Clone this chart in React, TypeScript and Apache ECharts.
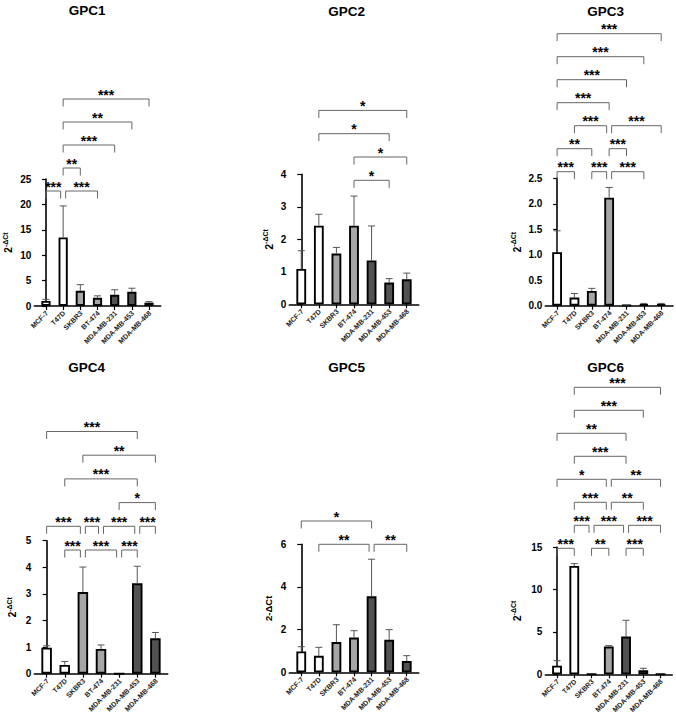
import React, { useEffect, useRef } from "react";
import * as echarts from "echarts";

const CELL_LINES = ["MCF-7", "T47D", "SKBR3", "BT-474", "MDA-MB-231", "MDA-MB-453", "MDA-MB-468"];
const CELL_TONE = ["white", "white", "light", "light", "dark", "dark", "dark"];

const PANEL_NAMES = ["GPC1", "GPC2", "GPC3", "GPC4", "GPC5", "GPC6"];
const Y_MAX = [25, 4, 2.5, 5, 6, 15];
const Y_STEP = [5, 1, 0.5, 1, 2, 5];

const GPC1_MEAN = [1.0, 13.5, 3.0, 1.6, 2.2, 2.8, 0.66];
const GPC1_SD = [0.3, 6.2, 1.2, 0.4, 1.0, 0.7, 0.2];
const GPC2_MEAN = [1.09, 2.42, 1.56, 2.42, 1.35, 0.67, 0.77];
const GPC2_SD = [0.56, 0.35, 0.19, 0.91, 1.06, 0.12, 0.19];
const GPC3_MEAN = [1.05, 0.16, 0.29, 2.12, 0.01, 0.03, 0.03];
const GPC3_SD = [0.42, 0.08, 0.05, 0.2, 0.005, 0.015, 0.015];
const GPC4_MEAN = [0.98, 0.33, 3.07, 0.93, 0, 3.4, 1.33];
const GPC4_SD = [0.07, 0.13, 0.94, 0.15, 0, 0.64, 0.22];
const GPC5_MEAN = [0.98, 0.77, 1.42, 1.63, 3.56, 1.52, 0.53];
const GPC5_SD = [0.22, 0.4, 0.81, 0.32, 1.74, 0.48, 0.25];
const GPC6_MEAN = [1.02, 12.8, 0, 3.27, 4.45, 0.47, 0];
const GPC6_SD = [0.59, 0.27, 0, 0.12, 1.93, 0.24, 0];

type Sig = [number, number, number, string]; // [from, to, row, stars]
const GPC1_SIG: Sig[] = [[0, 1, 0, "***"], [1, 3, 0, "***"], [1, 2, 1, "**"], [1, 4, 2, "***"], [1, 5, 3, "**"], [1, 6, 4, "***"]];
const GPC2_SIG: Sig[] = [[3, 5, 0, "*"], [3, 6, 1, "*"], [1, 5, 2, "*"], [1, 6, 3, "*"]];
const GPC3_SIG: Sig[] = [
  [0, 1, 0, "***"], [2, 3, 0, "***"], [3, 5, 0, "***"],
  [0, 2, 1, "**"], [3, 4, 1, "***"],
  [1, 3, 2, "***"], [3, 6, 2, "***"],
  [0, 3, 3, "***"], [0, 4, 4, "***"], [0, 5, 5, "***"], [0, 6, 6, "***"],
];
const GPC4_SIG: Sig[] = [
  [1, 2, 0, "***"], [2, 4, 0, "***"], [4, 5, 0, "***"],
  [0, 2, 1, "***"], [2, 3, 1, "***"], [3, 5, 1, "***"], [5, 6, 1, "***"],
  [4, 6, 2, "*"], [1, 5, 3, "***"], [2, 6, 4, "**"], [0, 5, 5, "***"],
];
const GPC5_SIG: Sig[] = [[1, 4, 0, "**"], [4, 6, 0, "**"], [0, 4, 1, "*"]];
const GPC6_SIG: Sig[] = [
  [0, 1, 0, "***"], [2, 3, 0, "**"], [4, 5, 0, "***"],
  [1, 2, 1, "***"], [2, 4, 1, "***"], [4, 6, 1, "***"],
  [1, 3, 2, "***"], [3, 5, 2, "**"],
  [0, 3, 3, "*"], [3, 6, 3, "**"],
  [1, 4, 4, "***"], [0, 4, 5, "**"], [1, 5, 6, "***"], [1, 6, 7, "***"],
];

const MEANS = [GPC1_MEAN, GPC2_MEAN, GPC3_MEAN, GPC4_MEAN, GPC5_MEAN, GPC6_MEAN];
const SDS = [GPC1_SD, GPC2_SD, GPC3_SD, GPC4_SD, GPC5_SD, GPC6_SD];
const SIGS = [GPC1_SIG, GPC2_SIG, GPC3_SIG, GPC4_SIG, GPC5_SIG, GPC6_SIG];

const TONE_COLOR: Record<string, string> = { white: "#ffffff", light: "#a6a6a6", dark: "#525252" };
const FONT = '"Liberation Sans", Arial, Helvetica, sans-serif';

const LAYOUT = [
  { left: 34.3, top: 179, width: 126.4, height: 127, barW: 9.2, sigBase: 12, sigGap: 23, titleX: 87, titleY: 10, nameX: 7.5 },
  { left: 289.3, top: 174.3, width: 129.4, height: 130, barW: 9.8, sigBase: 6, sigGap: 23.3, titleX: 346.7, titleY: 11.7, nameX: 268.3 },
  { left: 545.3, top: 178.3, width: 127.7, height: 127.4, barW: 9.8, sigBase: -6.6, sigGap: 23, titleX: 605.7, titleY: 11.7, nameX: 516 },
  { left: 34.3, top: 540.7, width: 133.4, height: 133, barW: 10.5, sigBase: 9.3, sigGap: 23.7, titleX: 86.7, titleY: 367.7, nameX: 11.7 },
  { left: 289.3, top: 544.3, width: 129.4, height: 128, barW: 9.8, sigBase: 0, sigGap: 23.3, titleX: 346.7, titleY: 367.7, nameX: 268.3 },
  { left: 545.3, top: 547.3, width: 127, height: 127, barW: 9.8, sigBase: 1, sigGap: 23, titleX: 605.7, titleY: 367.7, nameX: 516 },
];

const X_MIN = -0.68;
const X_MAX = 6.68;
const CAT_IDX = CELL_LINES.map((_, i) => i);

function buildOption() {
  const grid: any[] = [];
  const xAxis: any[] = [];
  const yAxis: any[] = [];
  const series: any[] = [];
  const graphic: any[] = [];

  LAYOUT.forEach((L, p) => {
    grid.push({ left: L.left, top: L.top, width: L.width, height: L.height, containLabel: false });
    xAxis.push({
      type: "value",
      gridIndex: p,
      min: X_MIN,
      max: X_MAX,
      splitNumber: 7,
      splitLine: { show: false },
      axisLine: { show: true, onZero: false, lineStyle: { color: "#000", width: 1.6 } },
      axisTick: { show: true, customValues: CAT_IDX, length: 4, lineStyle: { color: "#000", width: 1.2 } },
      axisLabel: { show: false },
    });
    yAxis.push({
      type: "value",
      gridIndex: p,
      min: 0,
      max: Y_MAX[p],
      interval: Y_STEP[p],
      splitLine: { show: false },
      axisLine: { show: true, lineStyle: { color: "#000", width: 1.6 } },
      axisTick: { show: true, length: 4, lineStyle: { color: "#000", width: 1.2 } },
      axisLabel: {
        fontSize: 10,
        fontWeight: "bold",
        color: "#000",
        fontFamily: FONT,
        margin: 3,
        formatter: (v: number) => (Y_STEP[p] < 1 ? v.toFixed(1) : String(v)),
      },
    });

    // category labels, rotated 45°, anchored at each tick
    series.push({
      type: "custom",
      xAxisIndex: p,
      yAxisIndex: p,
      clip: false,
      silent: true,
      z: 5,
      data: CAT_IDX.map((i) => [i, 0]),
      renderItem: (params: any, api: any) => {
        const i = api.value(0);
        const pt = api.coord([i, 0]);
        return {
          type: "text",
          x: pt[0] + 1,
          y: pt[1] + 6,
          rotation: Math.PI / 4,
          style: {
            text: CELL_LINES[i],
            fill: "#222",
            fontSize: 7,
            fontWeight: "bold",
            fontFamily: FONT,
            textAlign: "right",
            textVerticalAlign: "middle",
          },
        };
      },
    });

    const means = MEANS[p];
    const sds = SDS[p];
    series.push({
      type: "bar",
      xAxisIndex: p,
      yAxisIndex: p,
      barWidth: L.barW,
      data: means.map((m, i) => ({
        value: [i, m],
        itemStyle: { color: TONE_COLOR[CELL_TONE[i]], borderColor: "#000", borderWidth: 1.9 },
      })),
      z: 2,
    });
    series.push({
      type: "custom",
      xAxisIndex: p,
      yAxisIndex: p,
      clip: false,
      z: 3,
      data: means.map((m, i) => [i, m, m + sds[i]]),
      renderItem: (params: any, api: any) => {
        const x = api.value(0);
        const m = api.value(1);
        const t = api.value(2);
        if (!(t > m)) return { type: "group", children: [] };
        const p0 = api.coord([x, m]);
        const p1 = api.coord([x, t]);
        return {
          type: "group",
          children: [
            { type: "line", shape: { x1: p0[0], y1: p0[1], x2: p1[0], y2: p1[1] }, style: { stroke: "#555", lineWidth: 1 } },
            { type: "line", shape: { x1: p1[0] - 3.5, y1: p1[1], x2: p1[0] + 3.5, y2: p1[1] }, style: { stroke: "#555", lineWidth: 1 } },
          ],
        };
      },
    });
    const sigs = SIGS[p];
    series.push({
      type: "custom",
      xAxisIndex: p,
      yAxisIndex: p,
      clip: false,
      z: 4,
      data: sigs.map((s) => [s[0], s[1], s[2]]),
      renderItem: (params: any, api: any) => {
        const sig = sigs[params.dataIndex];
        const [a, b, row, label] = sig;
        const cs = params.coordSys;
        let xa = api.coord([a, 0])[0];
        let xb = api.coord([b, 0])[0];
        if (sigs.some((o) => o !== sig && o[2] === row && o[1] === a)) xa += 2.5;
        if (sigs.some((o) => o !== sig && o[2] === row && o[0] === b)) xb -= 2.5;
        const y = cs.y + L.sigBase - row * L.sigGap;
        return {
          type: "group",
          children: [
            {
              type: "polyline",
              shape: { points: [[xa, y + 7.5], [xa, y], [xb, y], [xb, y + 7.5]] },
              style: { stroke: "#666", fill: "none", lineWidth: 1 },
            },
            {
              type: "text",
              x: (xa + xb) / 2,
              y: y - 4.5,
              style: {
                text: label,
                fill: "#000",
                fontSize: 14,
                fontWeight: "bold",
                fontFamily: FONT,
                textAlign: "center",
                textVerticalAlign: "middle",
              },
            },
          ],
        };
      },
    });

    graphic.push({
      type: "text",
      x: L.titleX,
      y: L.titleY,
      style: {
        text: PANEL_NAMES[p],
        fill: "#000",
        fontSize: 13.5,
        fontWeight: "bold",
        fontFamily: FONT,
        textAlign: "center",
        textVerticalAlign: "middle",
      },
    });
    const plain = p === 4;
    graphic.push({
      type: "text",
      x: L.nameX,
      y: L.top + L.height / 2,
      rotation: Math.PI / 2,
      style: plain
        ? {
            text: "2-ΔCt",
            fill: "#000",
            fontSize: 9.5,
            fontWeight: "bold",
            fontFamily: FONT,
            textAlign: "center",
            textVerticalAlign: "middle",
          }
        : {
            text: "{b|2}{s|-ΔCt}",
            fill: "#000",
            fontFamily: FONT,
            textAlign: "center",
            textVerticalAlign: "middle",
            rich: {
              b: { fontSize: 10, fontWeight: "bold", fontFamily: FONT, fill: "#000", verticalAlign: "bottom", lineHeight: 12 },
              s: { fontSize: 7, fontWeight: "bold", fontFamily: FONT, fill: "#000", verticalAlign: "top", lineHeight: 12 },
            },
          },
    });
  });

  return {
    animation: false,
    backgroundColor: "#ffffff",
    grid,
    xAxis,
    yAxis,
    series,
    graphic,
  };
}

export default function App() {
  const ref = useRef<HTMLDivElement>(null);
  useEffect(() => {
    document.body.style.margin = "0";
    if (!ref.current) return;
    const chart = echarts.init(ref.current, undefined, { renderer: "svg" });
    chart.setOption(buildOption() as any);
    return () => chart.dispose();
  }, []);
  return <div ref={ref} style={{ width: 676, height: 722 }} />;
}
